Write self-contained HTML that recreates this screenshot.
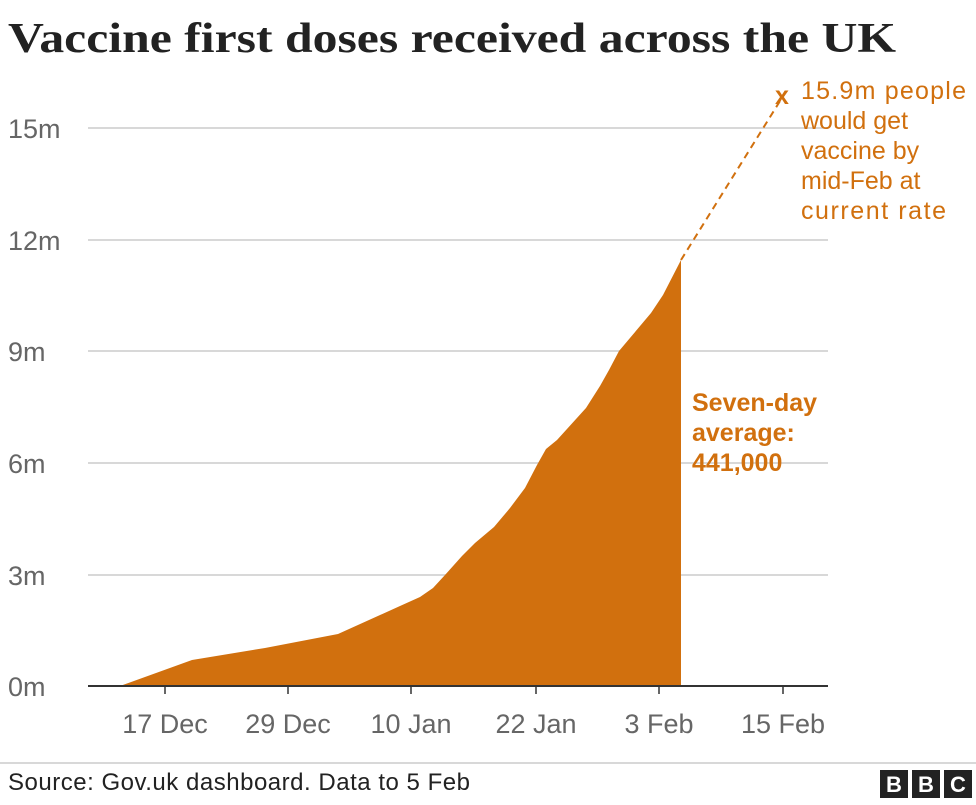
<!DOCTYPE html>
<html><head><meta charset="utf-8"><style>
body{margin:0;background:#fff;width:976px;height:800px;overflow:hidden}
.s{font-family:"Liberation Sans",sans-serif}
.t{font-family:"Liberation Serif",serif}
</style></head><body>
<svg width="976" height="800" viewBox="0 0 976 800">
<text class="t" x="8" y="52" font-weight="bold" font-size="42" fill="#222" textLength="888" lengthAdjust="spacingAndGlyphs">Vaccine first doses received across the UK</text>
<g stroke="#ccc" stroke-width="1.5">
<line x1="88" y1="128" x2="828" y2="128"/><line x1="88" y1="240" x2="828" y2="240"/>
<line x1="88" y1="351" x2="828" y2="351"/><line x1="88" y1="463" x2="828" y2="463"/>
<line x1="88" y1="575" x2="828" y2="575"/>
</g>
<g class="s" font-size="27" fill="#666">
<text x="8" y="138">15m</text><text x="8" y="250">12m</text><text x="8" y="361">9m</text>
<text x="8" y="473">6m</text><text x="8" y="585">3m</text><text x="8" y="696">0m</text>
</g>
<polygon fill="#d1700e" points="120,686 192,660 265,648 338,634 400,606 420,597 433,588 445,575 462,556 475,543 494,527 510,508 525,488 537,465 546,449 557,440 586,408 600,386 609,370 619,351 651,313 663,295 681,260 681,686"/>
<line x1="681" y1="260" x2="785" y2="93" stroke="#d1700e" stroke-width="2" stroke-dasharray="7,5"/>
<text class="s" x="775" y="104" font-size="25" font-weight="bold" fill="#d1700e">x</text>
<g class="s" font-size="25" fill="#d1700e">
<text x="801" y="99" textLength="165">15.9m people</text><text x="801" y="129">would get</text><text x="801" y="159">vaccine by</text>
<text x="801" y="189">mid-Feb at</text><text x="801" y="219" textLength="145">current rate</text>
</g>
<g class="s" font-size="25" font-weight="bold" fill="#d1700e">
<text x="692" y="411">Seven-day</text><text x="692" y="441">average:</text><text x="692" y="471">441,000</text>
</g>
<line x1="88" y1="686" x2="828" y2="686" stroke="#333" stroke-width="2"/>
<g stroke="#333" stroke-width="1.5">
<line x1="165" y1="686" x2="165" y2="694"/><line x1="288" y1="686" x2="288" y2="694"/>
<line x1="411" y1="686" x2="411" y2="694"/><line x1="536" y1="686" x2="536" y2="694"/>
<line x1="659" y1="686" x2="659" y2="694"/><line x1="783" y1="686" x2="783" y2="694"/>
</g>
<g class="s" font-size="27" fill="#666" text-anchor="middle">
<text x="165" y="733">17 Dec</text><text x="288" y="733">29 Dec</text><text x="411" y="733">10 Jan</text>
<text x="536" y="733">22 Jan</text><text x="659" y="733">3 Feb</text><text x="783" y="733">15 Feb</text>
</g>
<line x1="0" y1="763" x2="976" y2="763" stroke="#ccc" stroke-width="1.5"/>
<text class="s" x="8" y="790" font-size="24" fill="#222" textLength="462">Source: Gov.uk dashboard. Data to 5 Feb</text>
<g>
<rect x="880" y="770" width="28" height="28" fill="#222"/><rect x="912" y="770" width="28" height="28" fill="#222"/><rect x="944" y="770" width="28" height="28" fill="#222"/>
<g class="s" fill="#fff" font-weight="bold" font-size="22" text-anchor="middle"><text x="894" y="792">B</text><text x="926" y="792">B</text><text x="958" y="792">C</text></g>
</g>
</svg>
</body></html>
